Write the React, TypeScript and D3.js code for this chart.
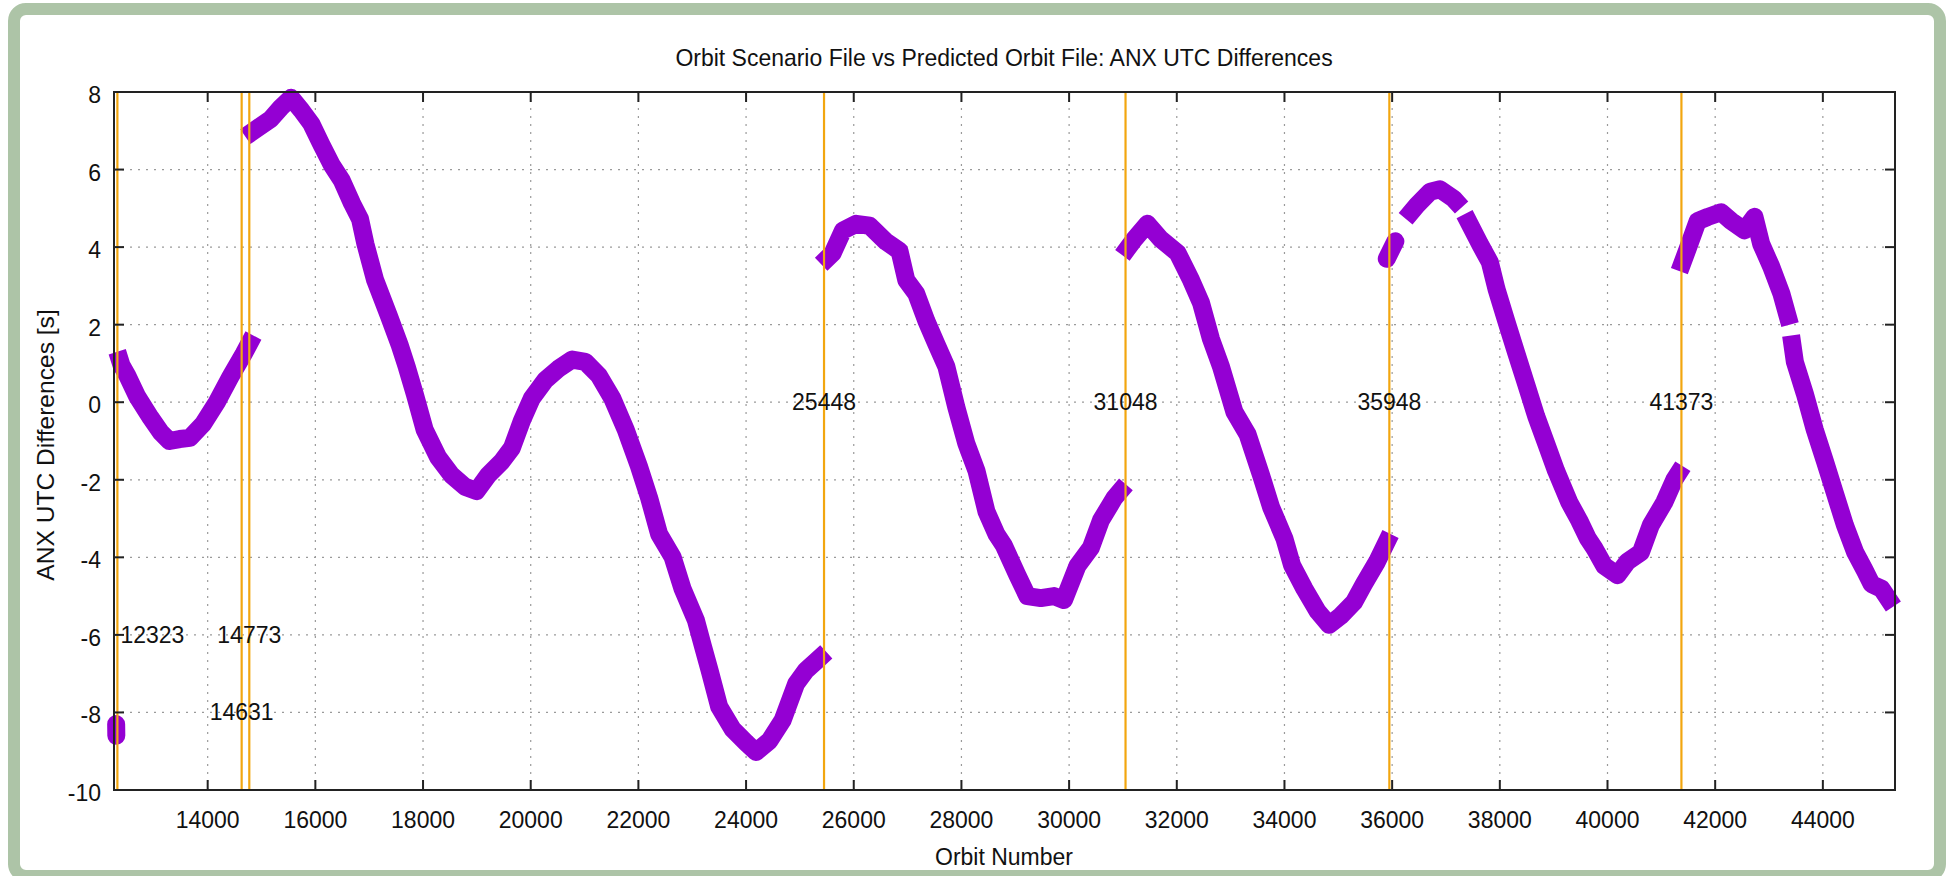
import React from "react";
import * as d3 from "d3";

const W = 1947;
const H = 876;

const titleText = "Orbit Scenario File vs Predicted Orbit File: ANX UTC Differences";
const xLabelText = "Orbit Number";
const yLabelText = "ANX UTC Differences [s]";

const xDomain = [12260, 45340];
const yDomain = [-10, 8];
const xTicks = [14000, 16000, 18000, 20000, 22000, 24000, 26000, 28000, 30000, 32000, 34000, 36000, 38000, 40000, 42000, 44000];
const yTicks = [-10, -8, -6, -4, -2, 0, 2, 4, 6, 8];

const markerOrbits = [12323, 14631, 14773, 25448, 31048, 35948, 41373];
const markerLabelY = [-6, -8, -6, 0, 0, 0, 0];
const markerLabelAlign = ["start", "middle", "middle", "middle", "middle", "middle", "middle"];

// orbit number, ANX UTC difference [s]
const seg0 = [[12300, -8.3], [12303, -8.6]];
const seg1 = [[12320, 1.3], [12400, 0.95], [12505, 0.69], [12690, 0.15], [12940, -0.4], [13130, -0.78], [13290, -1.0], [13480, -0.95], [13670, -0.92], [13920, -0.55], [14170, 0.0], [14420, 0.65], [14670, 1.25], [14850, 1.72]];
const seg2 = [[14700, 6.85], [14920, 7.06], [15170, 7.3], [15360, 7.6], [15550, 7.85], [15740, 7.53], [15925, 7.18], [16110, 6.65], [16300, 6.13], [16490, 5.72], [16680, 5.13], [16830, 4.72], [16930, 4.08], [17110, 3.15], [17370, 2.21], [17560, 1.5], [17700, 0.9], [17845, 0.22], [18030, -0.71], [18280, -1.42], [18530, -1.88], [18780, -2.18], [18995, -2.29], [19210, -1.88], [19460, -1.53], [19650, -1.18], [19835, -0.48], [20020, 0.1], [20270, 0.57], [20520, 0.87], [20770, 1.1], [21015, 1.04], [21265, 0.69], [21515, 0.1], [21765, -0.71], [22010, -1.65], [22200, -2.47], [22385, -3.4], [22635, -3.99], [22820, -4.81], [23070, -5.63], [23200, -6.3], [23320, -6.9], [23500, -7.85], [23750, -8.43], [24000, -8.78], [24185, -9.02], [24435, -8.73], [24680, -8.2], [24930, -7.26], [25115, -6.91], [25300, -6.68], [25490, -6.44]];
const seg3 = [[25395, 3.56], [25610, 3.85], [25800, 4.43], [26045, 4.6], [26295, 4.55], [26600, 4.14], [26850, 3.9], [26975, 3.15], [27160, 2.8], [27350, 2.09], [27535, 1.5], [27720, 0.92], [27905, -0.13], [28090, -1.06], [28280, -1.77], [28465, -2.82], [28650, -3.4], [28790, -3.7], [29040, -4.46], [29225, -5.0], [29475, -5.05], [29720, -5.0], [29905, -5.1], [30155, -4.22], [30405, -3.75], [30590, -3.05], [30840, -2.47], [31055, -2.12]];
const seg4 = [[30990, 3.79], [31210, 4.2], [31455, 4.6], [31705, 4.2], [32015, 3.85], [32265, 3.15], [32450, 2.56], [32635, 1.63], [32820, 0.92], [33070, -0.25], [33315, -0.83], [33565, -1.88], [33750, -2.7], [34000, -3.52], [34140, -4.2], [34370, -4.81], [34615, -5.39], [34830, -5.74], [35045, -5.51], [35290, -5.16], [35475, -4.69], [35720, -4.11], [35970, -3.4]];
const seg5a = [[35900, 3.7], [36060, 4.15]];
const seg5b = [[36250, 4.73], [36460, 5.08], [36705, 5.43], [36890, 5.49], [37140, 5.25], [37290, 5.02]];
const seg5c = [[37345, 4.85], [37630, 4.08], [37815, 3.61], [37940, 2.91], [38120, 2.09], [38305, 1.27], [38490, 0.46], [38675, -0.36], [38860, -1.06], [39045, -1.77], [39290, -2.58], [39475, -3.05], [39630, -3.5], [39750, -3.75], [39940, -4.22], [40185, -4.46], [40370, -4.11], [40620, -3.87], [40805, -3.17], [41055, -2.58], [41240, -2.0], [41400, -1.65]];
const seg6a = [[41335, 3.38], [41490, 3.96], [41675, 4.67], [41865, 4.78], [42110, 4.9], [42300, 4.67], [42545, 4.43], [42730, 4.78], [42855, 4.08], [43040, 3.5], [43230, 2.8], [43390, 2.0]];
const seg6b = [[43410, 1.72], [43480, 1.04], [43665, 0.22], [43850, -0.71], [44040, -1.53], [44225, -2.35], [44410, -3.17], [44600, -3.87], [44780, -4.34], [44905, -4.69], [45090, -4.81], [45310, -5.27]];
const segments = [seg0, seg1, seg2, seg3, seg4, seg5a, seg5b, seg5c, seg6a, seg6b];

const M = { left: 114, right: 1895, top: 92, bottom: 790 };
const FONT = "'Liberation Sans', Arial, Helvetica, sans-serif";
const FS = 23;
const SY = 1.07;

function Txt({ x, y, anchor = "middle", rotate = 0, children, fill = "#111", fs = FS }: any) {
  const tr = rotate
    ? `translate(${x},${y}) rotate(${rotate}) scale(${SY},1)`
    : `translate(${x},${y}) scale(1,${SY})`;
  return (
    <text transform={tr} textAnchor={anchor} fontFamily={FONT} fontSize={fs} fill={fill}>
      {children}
    </text>
  );
}

export default function App() {
  const x = d3.scaleLinear().domain(xDomain).range([M.left, M.right]);
  const y = d3.scaleLinear().domain(yDomain).range([M.bottom, M.top]);
  const line = d3
    .line<number[]>()
    .x((d) => x(d[0]))
    .y((d) => y(d[1]));
  const tick = 10;
  const gridColor = "#9a9a9a";

  return (
    <svg
      width={W}
      height={H}
      style={{ position: "absolute", left: 0, top: 0, background: "#fff" }}
    >
      <rect x={0} y={0} width={W} height={H} fill="#fff" />
      <rect x={14} y={9} width={1926} height={867} rx={12} ry={12} fill="#fff" stroke="#adc4a7" strokeWidth={12} />

      {/* grid */}
      <g stroke={gridColor} strokeWidth={1.2} strokeDasharray="2,6">
        {xTicks.map((t) => (
          <line key={"gx" + t} x1={x(t)} x2={x(t)} y1={M.top} y2={M.bottom} />
        ))}
        {yTicks
          .filter((t) => t !== yDomain[0] && t !== yDomain[1])
          .map((t) => (
            <line key={"gy" + t} x1={M.left} x2={M.right} y1={y(t)} y2={y(t)} />
          ))}
      </g>

      {/* data */}
      <g fill="none" stroke="#9400d3" strokeWidth={18} strokeLinejoin="round">
        {segments.map((s, i) => (
          <path key={"s" + i} d={line(s) || ""} strokeLinecap={s.length <= 2 ? "round" : "butt"} />
        ))}
      </g>

      {/* marker lines */}
      <g stroke="#f2a60f" strokeWidth={2.2}>
        {markerOrbits.map((o) => (
          <line key={"m" + o} x1={x(o)} x2={x(o)} y1={M.top} y2={M.bottom} />
        ))}
      </g>

      {/* border */}
      <rect x={M.left} y={M.top} width={M.right - M.left} height={M.bottom - M.top} fill="none" stroke="#222" strokeWidth={2} />
      <g stroke="#222" strokeWidth={2}>
        {xTicks.map((t) => (
          <g key={"tx" + t}>
            <line x1={x(t)} x2={x(t)} y1={M.bottom} y2={M.bottom - tick} />
            <line x1={x(t)} x2={x(t)} y1={M.top} y2={M.top + tick} />
          </g>
        ))}
        {yTicks.map((t) => (
          <g key={"ty" + t}>
            <line x1={M.left} x2={M.left + tick} y1={y(t)} y2={y(t)} />
            <line x1={M.right} x2={M.right - tick} y1={y(t)} y2={y(t)} />
          </g>
        ))}
      </g>

      {/* tick labels */}
      {xTicks.map((t) => (
        <Txt key={"lx" + t} x={x(t)} y={828}>
          {t}
        </Txt>
      ))}
      {yTicks.map((t) => (
        <Txt key={"ly" + t} x={101} y={y(t) + 11} anchor="end">
          {t}
        </Txt>
      ))}

      {/* marker labels */}
      {markerOrbits.map((o, i) => (
        <Txt
          key={"ml" + o}
          x={x(o) + (markerLabelAlign[i] === "start" ? 3 : 0)}
          y={y(markerLabelY[i]) + 8}
          anchor={markerLabelAlign[i]}
        >
          {o}
        </Txt>
      ))}

      {/* titles */}
      <Txt x={1004} y={66}>{titleText}</Txt>
      <Txt x={1004} y={865}>{xLabelText}</Txt>
      <Txt x={54} y={445} rotate={-90}>{yLabelText}</Txt>
    </svg>
  );
}
